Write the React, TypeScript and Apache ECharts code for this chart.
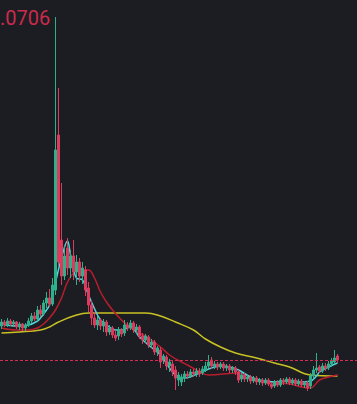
import React, { useEffect, useRef } from "react";
import * as echarts from "echarts";

// Candles: open / close / low / high
const openP = [0.0397,0.0401,0.0398,0.0402,0.0399,0.0401,0.0396,0.0399,0.0395,0.0398,
0.0402,0.0407,0.0404,0.0413,0.0409,0.0420,0.0425,0.0419,0.0433,0.0588,
0.0483,0.0447,0.0475,0.0455,0.0467,0.0451,0.0461,0.0447,0.0453,0.0435,
0.0418,0.0405,0.0398,0.0403,0.0397,0.0401,0.0391,0.0395,0.0388,0.0387,
0.0393,0.0390,0.0398,0.0395,0.0400,0.0393,0.0396,0.0387,0.0383,0.0386,
0.0378,0.0381,0.0371,0.0373,0.0363,0.0366,0.0357,0.0359,0.0353,0.0343,
0.0341,0.0345,0.0349,0.0347,0.0351,0.0349,0.0352,0.0350,0.0353,0.0357,
0.0363,0.0357,0.0359,0.0356,0.0359,0.0355,0.0357,0.0353,0.0355,0.0351,
0.0344,0.0348,0.0344,0.0346,0.0342,0.0345,0.0341,0.0343,0.0340,0.0343,
0.0339,0.0337,0.0341,0.0338,0.0343,0.0341,0.0344,0.0340,0.0343,0.0339,
0.0342,0.0338,0.0340,0.0337,0.0347,0.0353,0.0356,0.0352,0.0357,0.0355,
0.0359,0.0361,0.0367];
const closeP = [0.0401,0.0398,0.0402,0.0399,0.0401,0.0396,0.0399,0.0395,0.0398,0.0402,
0.0407,0.0404,0.0413,0.0409,0.0420,0.0425,0.0419,0.0438,0.0573,0.0461,
0.0447,0.0467,0.0455,0.0467,0.0451,0.0461,0.0447,0.0455,0.0433,0.0418,
0.0405,0.0398,0.0403,0.0397,0.0401,0.0391,0.0395,0.0388,0.0385,0.0393,
0.0389,0.0398,0.0395,0.0400,0.0393,0.0396,0.0387,0.0383,0.0387,0.0378,
0.0381,0.0371,0.0375,0.0361,0.0367,0.0357,0.0361,0.0351,0.0345,0.0348,
0.0346,0.0349,0.0347,0.0351,0.0349,0.0352,0.0349,0.0354,0.0357,0.0361,
0.0357,0.0359,0.0356,0.0359,0.0355,0.0357,0.0353,0.0355,0.0351,0.0343,
0.0348,0.0344,0.0346,0.0342,0.0345,0.0341,0.0343,0.0340,0.0343,0.0339,
0.0336,0.0341,0.0338,0.0343,0.0341,0.0344,0.0340,0.0343,0.0339,0.0342,
0.0338,0.0340,0.0335,0.0347,0.0353,0.0355,0.0352,0.0357,0.0355,0.0359,
0.0362,0.0365,0.0363];
const lowP = [0.0394,0.0396,0.0396,0.0397,0.0396,0.0394,0.0393,0.0392,0.0392,0.0396,
0.0400,0.0402,0.0402,0.0406,0.0407,0.0415,0.0416,0.0417,0.0428,0.0457,
0.0438,0.0443,0.0448,0.0445,0.0443,0.0438,0.0441,0.0439,0.0427,0.0411,
0.0398,0.0395,0.0393,0.0393,0.0391,0.0387,0.0388,0.0385,0.0382,0.0383,
0.0386,0.0387,0.0392,0.0393,0.0390,0.0389,0.0384,0.0379,0.0380,0.0375,
0.0375,0.0368,0.0367,0.0355,0.0359,0.0353,0.0351,0.0347,0.0333,0.0337,
0.0337,0.0341,0.0344,0.0345,0.0346,0.0346,0.0346,0.0348,0.0351,0.0355,
0.0354,0.0354,0.0353,0.0354,0.0352,0.0352,0.0350,0.0350,0.0348,0.0340,
0.0341,0.0341,0.0341,0.0339,0.0340,0.0338,0.0338,0.0337,0.0338,0.0337,
0.0334,0.0335,0.0336,0.0336,0.0338,0.0339,0.0338,0.0338,0.0337,0.0337,
0.0336,0.0335,0.0332,0.0334,0.0345,0.0350,0.0350,0.0350,0.0352,0.0353,
0.0356,0.0359,0.0360];
const highP = [0.0404,0.0403,0.0405,0.0404,0.0403,0.0402,0.0401,0.0400,0.0400,0.0405,
0.0410,0.0411,0.0417,0.0418,0.0423,0.0431,0.0434,0.0445,0.0706,0.0635,
0.0540,0.0478,0.0485,0.0473,0.0483,0.0468,0.0465,0.0461,0.0457,0.0441,
0.0423,0.0411,0.0407,0.0405,0.0404,0.0403,0.0398,0.0397,0.0393,0.0396,
0.0395,0.0403,0.0401,0.0403,0.0402,0.0399,0.0398,0.0390,0.0389,0.0388,
0.0384,0.0383,0.0377,0.0376,0.0369,0.0368,0.0364,0.0362,0.0357,0.0351,
0.0349,0.0352,0.0352,0.0354,0.0354,0.0355,0.0355,0.0357,0.0361,0.0368,
0.0366,0.0362,0.0361,0.0361,0.0361,0.0359,0.0359,0.0357,0.0357,0.0353,
0.0350,0.0350,0.0348,0.0348,0.0347,0.0347,0.0345,0.0345,0.0345,0.0345,
0.0341,0.0343,0.0343,0.0345,0.0345,0.0346,0.0346,0.0345,0.0345,0.0344,
0.0344,0.0342,0.0342,0.0350,0.0357,0.0370,0.0358,0.0360,0.0360,0.0362,
0.0365,0.0373,0.0369];

// Moving averages, read as [candle index, value]
const maFast: [number, number][] = [[0,0.0399],[5,0.0397],[9,0.0398],[12,0.0402],[13,0.0405],[15,0.0413],[16,0.0418],[18,0.0441],[20,0.0465],[22,0.0482],[23,0.0468],[24,0.0455],[25,0.0445],[27,0.0443],[28,0.0436],[29,0.0428],[30,0.0421],[33,0.0403],[36,0.0396],[38,0.0393],[40,0.0393],[43,0.0396],[46,0.0386],[49,0.0378],[53,0.0368],[56,0.0355],[58,0.0348],[61,0.0345],[66,0.0350],[70,0.0355],[73,0.0357],[76,0.0356],[79,0.0353],[83,0.0346],[86,0.0343],[91,0.0341],[96,0.0342],[100,0.0341],[103,0.0342],[105,0.0347],[106,0.0351],[109,0.0356],[112,0.0360]];
const maMid: [number, number][] = [[0,0.0395],[5,0.0393],[9,0.0393],[12,0.0395],[14,0.0399],[16,0.0405],[18,0.0413],[20,0.0425],[22,0.0441],[24,0.0450],[26,0.0453],[29,0.0453],[31,0.0445],[33,0.0431],[35,0.0421],[37,0.0413],[40,0.0403],[43,0.0395],[46,0.0390],[49,0.0385],[53,0.0376],[56,0.0368],[60,0.0361],[62,0.0358],[65,0.0353],[69,0.0348],[79,0.0350],[83,0.0346],[87,0.0341],[92,0.0340],[96,0.0339],[100,0.0336],[103,0.0335],[106,0.0343],[109,0.0346],[112,0.0348]];
const maSlow: [number, number][] = [[0,0.0390],[6,0.0391],[13,0.0393],[16,0.0396],[19,0.0401],[24,0.0407],[29,0.0410],[38,0.0410],[48,0.0410],[53,0.0407],[58,0.0401],[64,0.0393],[68,0.0384],[73,0.0376],[78,0.0370],[85,0.0365],[91,0.0360],[96,0.0356],[103,0.0348],[112,0.0347]];

const highLabel = ".0706";

export default function App() {
  const ref = useRef<HTMLDivElement>(null);
  useEffect(() => {
    document.body.style.margin = "0";
    document.body.style.background = "#1c1d22";
    const chart = echarts.init(ref.current!, null, { renderer: "svg" });
    const cats = openP.map((_, i) => String(i));
    const candles = openP.map((o, i) => [o, closeP[i], lowP[i], highP[i]]);
    const last = closeP[closeP.length - 1];
    const lineS = (data: [number, number][], color: string, extra: any = {}) => ({
      type: "line",
      data,
      smooth: 0.4,
      symbol: "none",
      lineStyle: { color, width: 1.5 },
      z: 3,
      ...extra,
    });
    chart.setOption({
      animation: false,
      backgroundColor: "#1c1d22",
      grid: { left: 0, right: 18, top: 0, bottom: 0 },
      xAxis: { type: "category", data: cats, show: false, boundaryGap: true },
      yAxis: { type: "value", min: 0.0319, max: 0.0723, show: false },
      graphic: [
        {
          type: "text",
          left: 0,
          top: 8,
          style: {
            text: highLabel,
            fill: "#cc2a4d",
            font: "20px Roboto",
          },
        },
      ],
      series: [
        lineS(maSlow, "#c9c124", {
          markLine: {
            silent: true,
            symbol: ["none", "none"],
            label: { show: false },
            lineStyle: { color: "#d62c55", type: [3, 2], width: 1, opacity: 1 },
            data: [[{ coord: [0, last], x: 0 }, { coord: [112, last], x: 357 }]],
          },
        }),
        lineS(maMid, "#b81d2d"),
        lineS(maFast, "#52d2dc"),
        {
          type: "candlestick",
          data: candles,
          barWidth: 2,
          z: 4,
          itemStyle: {
            color: "#2fb08c",
            color0: "#de3a5e",
            borderColor: "#2fb08c",
            borderColor0: "#de3a5e",
            borderWidth: 1,
          },
        },
      ],
    });
    return () => chart.dispose();
  }, []);
  return <div ref={ref} style={{ width: 357, height: 404, background: "#1c1d22" }} />;
}
